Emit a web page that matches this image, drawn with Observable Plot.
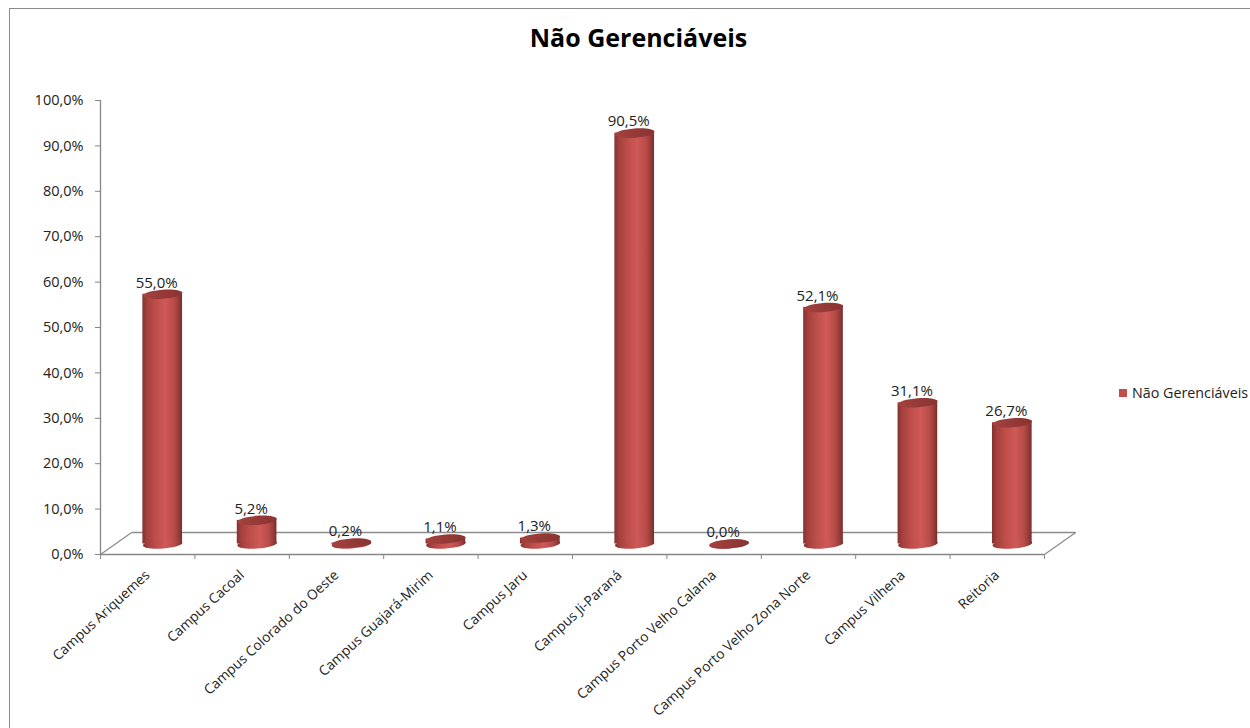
<!DOCTYPE html>
<html lang="pt">
<head>
<meta charset="utf-8">
<script src="https://cdn.jsdelivr.net/npm/d3@7"></script>
<script src="https://cdn.jsdelivr.net/npm/@observablehq/plot@0.6"></script>
<style>
  html, body { margin: 0; padding: 0; background: #fff; overflow: hidden; }
  #page { position: relative; width: 1250px; height: 728px; overflow: hidden; font-family: "Open Sans", sans-serif; color: #111; }
  #frame { position: absolute; left: 9px; top: 8px; width: 1400px; height: 900px; border: 1px solid #8a8a8a; box-sizing: border-box; }
  #title { position: absolute; left: 0; top: 20px; width: 1277px; text-align: center; font-size: 25px; line-height: 34px; font-weight: 700; color: #000; }
  #chart { position: absolute; left: 0; top: 60px; }
  #legend { position: absolute; left: 1119px; top: 383px; display: flex; align-items: center; font-size: 14.3px; line-height: 20px; white-space: nowrap; color: #222; }
  #legend i { display: inline-block; width: 8px; height: 8px; background: #c0504d; margin-right: 5px; }
</style>
</head>
<body>
<div id="page">
  <div id="frame"></div>
  <div id="title">Não Gerenciáveis</div>
  <div id="chart"></div>
  <div id="legend"><i></i><span>Não Gerenciáveis</span></div>
</div>
<script>
const categories = ["Campus Ariquemes","Campus Cacoal","Campus Colorado do Oeste","Campus Guajará-Mirim","Campus Jaru","Campus Ji-Paraná","Campus Porto Velho Calama","Campus Porto Velho Zona Norte","Campus Vilhena","Reitoria"];
const values = [55.0,5.2,0.2,1.1,1.3,90.5,0.0,52.1,31.1,26.7];
const yTicks = [0,10,20,30,40,50,60,70,80,90,100];

const rows = categories.map((name, i) => ({name, pos: i + 0.5, value: values[i]}));
const pct = v => v.toFixed(1).replace(".", ",") + "%";

// Depth of the 3D floor, in data units
const depthX = 0.33, depthY = 4.85;
const floor = [
  {x1: depthX, y1: depthY, x2: 10 + depthX, y2: depthY},
  {x1: 0, y1: 0, x2: depthX, y2: depthY},
  {x1: 10, y1: 0, x2: 10 + depthX, y2: depthY}
];

// Slightly tilted ellipse used for the cylinder caps
const ellipse = {
  draw(ctx, size) {
    const r = Math.sqrt(size / Math.PI), rx = r, ry = r * 0.23;
    const t = -4.2 * Math.PI / 180, c = Math.cos(t), s = Math.sin(t), k = 0.5523;
    const p = (x, y) => [x * c - y * s, x * s + y * c];
    ctx.moveTo(...p(rx, 0));
    ctx.bezierCurveTo(...p(rx, k * ry), ...p(k * rx, ry), ...p(0, ry));
    ctx.bezierCurveTo(...p(-k * rx, ry), ...p(-rx, k * ry), ...p(-rx, 0));
    ctx.bezierCurveTo(...p(-rx, -k * ry), ...p(-k * rx, -ry), ...p(0, -ry));
    ctx.bezierCurveTo(...p(k * rx, -ry), ...p(rx, -k * ry), ...p(rx, 0));
    ctx.closePath();
  }
};

const defs = () => {
  const d = d3.create("svg:defs");
  const stops = (id, list) => {
    const g = d.append("linearGradient").attr("id", id).attr("x1", 0).attr("x2", 1).attr("y1", 0).attr("y2", 0);
    list.forEach(([o, c]) => g.append("stop").attr("offset", o).attr("stop-color", c));
  };
  stops("body", [[0, "#843130"], [0.12, "#a5413e"], [0.35, "#bf4f4c"], [0.58, "#cf5956"], [0.8, "#b74c49"], [0.93, "#933a38"], [1, "#772c2a"]]);
  stops("cap", [[0, "#a5423f"], [0.5, "#953a37"], [1, "#8a3331"]]);
  return d.node();
};

const barW = 0.21, dxBar = 15, dyBar = -10.5;
const chart = Plot.plot({
  width: 1250,
  height: 668,
  marginTop: 40,
  marginBottom: 174,
  marginLeft: 100,
  marginRight: 206,
  style: {background: "transparent", overflow: "visible", fontFamily: "'Open Sans', sans-serif"},
  x: {domain: [0, 10]},
  y: {domain: [0, 100]},
  marks: [
    defs,
    Plot.link(floor, {x1: "x1", y1: "y1", x2: "x2", y2: "y2", stroke: "#8c8c8c", strokeWidth: 1.3}),
    Plot.ruleX([0], {stroke: "#868686", strokeWidth: 1.3}),
    Plot.ruleY([0], {stroke: "#868686", strokeWidth: 1.3}),
    Plot.axisY({ticks: yTicks, tickFormat: pct, tickSize: 5, tickPadding: 12, stroke: "#868686", fontSize: 14.5, label: null, fill: "#222"}),
    Plot.axisX({ticks: d3.range(0, 11), tickFormat: () => "", tickSize: 5, stroke: "#868686", label: null}),
    Plot.axisX({ticks: rows.map(d => d.pos), tickFormat: (d, i) => categories[i], tickSize: 0, tickPadding: 8, tickRotate: -42.5, textAnchor: "end", fontSize: 13.8, fill: "#222", label: null, dx: 0, dy: 10.5}),
    Plot.rectY(rows, {x1: d => d.pos - barW, x2: d => d.pos + barW, y1: 0, y2: "value", fill: "url(#body)", dx: dxBar, dy: dyBar}),
    Plot.dot(rows, {x: "pos", y: 0, r: 19.8, symbol: ellipse, fill: "url(#body)", dx: dxBar, dy: dyBar}),
    Plot.dot(rows, {x: "pos", y: "value", r: 19.8, symbol: ellipse, fill: "url(#cap)", dx: dxBar, dy: dyBar}),
    Plot.text(rows, {x: "pos", y: "value", text: d => pct(d.value), fontSize: 15, fill: "#222", dx: dxBar - 6, dy: dyBar - 11.5})
  ]
});
document.getElementById("chart").appendChild(chart);
</script>
</body>
</html>
